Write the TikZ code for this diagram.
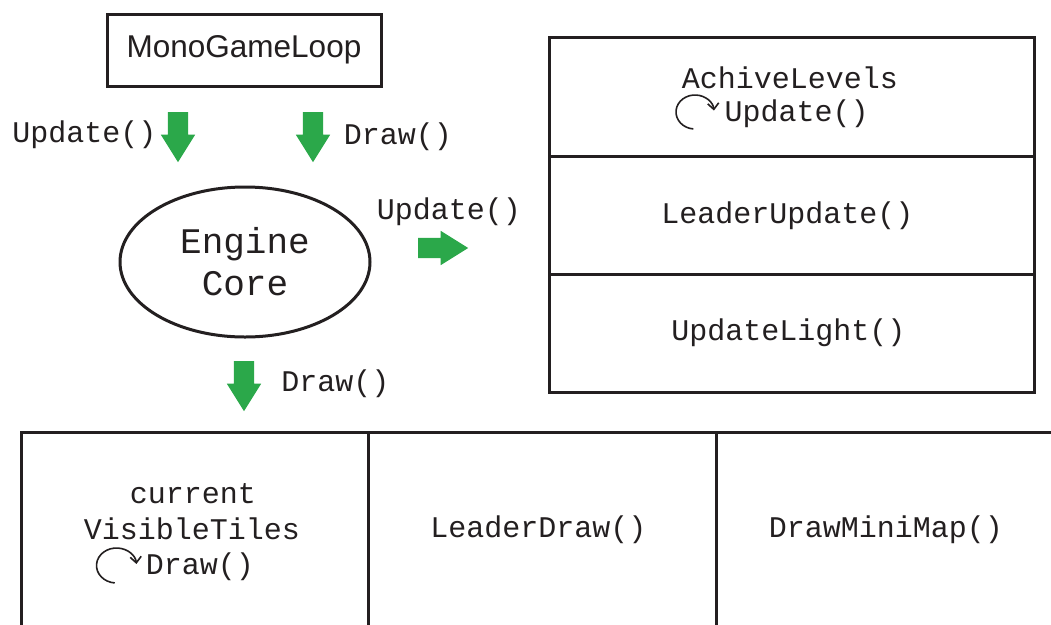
\documentclass[tikz,border=0pt]{standalone}
\usepackage{fontspec}
\setmainfont{Liberation Sans}
\setmonofont{Liberation Mono}
\usetikzlibrary{shapes.arrows,shapes.geometric,arrows.meta}
\definecolor{ink}{HTML}{231F20}
\definecolor{agreen}{HTML}{2BA84A}
\tikzset{
  box/.style={draw=ink, line width=3pt, inner sep=0pt},
  lbl/.style={font=\fontsize{30}{36}\selectfont\ttfamily, text=ink, inner sep=0pt},
  big/.style={font=\fontsize{36}{42}\selectfont\ttfamily, text=ink, align=center, inner sep=0pt},
  garrow/.style={single arrow, fill=agreen, draw=none, inner xsep=0pt, inner ysep=10pt,
    single arrow head extend=7pt, single arrow tip angle=64, minimum height=50pt},
  cyc/.style={draw=ink, line width=1.6pt, -{Straight Barb[length=6pt,width=11pt,line width=1.6pt]}}
}
\begin{document}
\begin{tikzpicture}[x=1pt,y=-1pt]
\clip (0,0) rectangle (1051,624);
\fill[white] (0,0) rectangle (1051,624);
% MonoGameLoop
\node[box, minimum width=274pt, minimum height=72pt, font=\fontsize{31.5}{36}\selectfont, text=ink] (mgl) at (244,50) {MonoGameLoop};
% Engine core
\node[ellipse, draw=ink, line width=3pt, minimum width=250pt, minimum height=150pt, inner sep=0pt] (core) at (245,262) {};
\node[big] (coretxt) at (245,262) {Engine\\Core};
% green arrows
\node[garrow, rotate=-90] (a1) at (178,129) {};
\node[garrow, rotate=-90] (a2) at (313,129) {};
\node[garrow] (a3) at (435,248) {};
\node[garrow, rotate=-90] (a4) at (244,378) {};
\node[lbl] (l1) at (84.5,135) {Update()};
\node[lbl] (l2) at (398,137) {Draw()};
\node[lbl] (l3) at (449,212) {Update()};
\node[lbl] (l4) at (335.5,384) {Draw()};
% right stack
\node[box, minimum width=485pt, minimum height=119pt, anchor=north west] (r1) at (548,36) {};
\node[box, minimum width=485pt, minimum height=118pt, anchor=north west] (r2) at (548,155) {};
\node[box, minimum width=485pt, minimum height=118pt, anchor=north west] (r3) at (548,273) {};
\node[lbl] (t1) at (790,78) {AchiveLevels};
\node[lbl] (t2) at (796.5,114) {Update()};
\coordinate (i1) at (695,112);
\begin{scope}[shift={(i1)}, yscale=-1]
  \draw[cyc] (265:19 and 17) arc[start angle=265, end angle=5, x radius=19, y radius=17];
\end{scope}
\node[lbl] (t3) at (787.5,216) {LeaderUpdate()};
\node[lbl] (t4) at (788.5,333) {UpdateLight()};
% bottom row
\node[box, minimum width=347pt, minimum height=240pt, anchor=north west] (b1) at (20,431) {};
\node[box, minimum width=348pt, minimum height=240pt, anchor=north west] (b2) at (367,431) {};
\node[box, minimum width=360pt, minimum height=240pt, anchor=north west] (b3) at (715,431) {};
\node[lbl] (s1) at (193,494) {current};
\node[lbl] (s2) at (192,529) {VisibleTiles};
\node[lbl] (s3) at (200,567) {Draw()};
\coordinate (i2) at (116.5,565.5);
\begin{scope}[shift={(i2)}, yscale=-1]
  \draw[cyc] (265:20 and 17.5) arc[start angle=265, end angle=5, x radius=20, y radius=17.5];
\end{scope}
\node[lbl] (s4) at (538.5,530) {LeaderDraw()};
\node[lbl] (s5) at (886,530) {DrawMiniMap()};
\end{tikzpicture}
\end{document}
